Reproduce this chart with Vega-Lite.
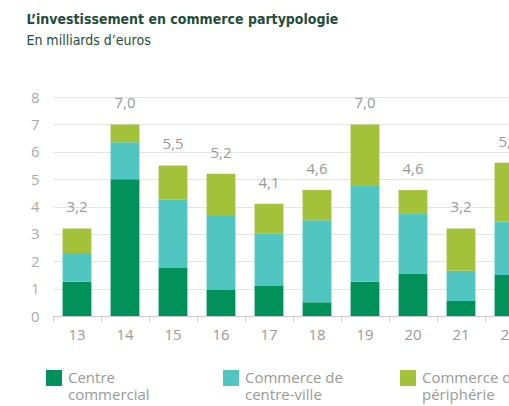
{
  "$schema": "https://vega.github.io/schema/vega-lite/v6.json",
  "width": 456,
  "height": 219,
  "autosize": {"type": "none"},
  "padding": {"left": 53, "top": 97, "right": 0, "bottom": 90},
  "title": {
    "text": "L’investissement en commerce partypologie",
    "subtitle": "En milliards d’euros",
    "anchor": "start",
    "dx": -4,
    "offset": 42,
    "font": "DejaVu Sans Condensed, DejaVu Sans, sans-serif",
    "fontWeight": "bold",
    "fontSize": 14,
    "color": "#1f4d3a",
    "subtitleFont": "DejaVu Sans Condensed, DejaVu Sans, sans-serif",
    "subtitleFontSize": 14,
    "subtitleColor": "#1f4d3a",
    "subtitlePadding": 7
  },
  "config": {
    "locale": {"number": {"decimal": ",", "thousands": " ", "grouping": [3], "currency": ["", " €"]}},
    "view": {"stroke": null},
    "font": "Open Sans"
  },
  "data": {
    "values": [
      {"year": "13", "type": "Centre commercial", "value": 1.25},
      {"year": "13", "type": "Commerce de centre-ville", "value": 1.05},
      {"year": "13", "type": "Commerce de périphérie", "value": 0.9},
      {"year": "14", "type": "Centre commercial", "value": 5.0},
      {"year": "14", "type": "Commerce de centre-ville", "value": 1.35},
      {"year": "14", "type": "Commerce de périphérie", "value": 0.65},
      {"year": "15", "type": "Centre commercial", "value": 1.75},
      {"year": "15", "type": "Commerce de centre-ville", "value": 2.5},
      {"year": "15", "type": "Commerce de périphérie", "value": 1.25},
      {"year": "16", "type": "Centre commercial", "value": 0.95},
      {"year": "16", "type": "Commerce de centre-ville", "value": 2.7},
      {"year": "16", "type": "Commerce de périphérie", "value": 1.55},
      {"year": "17", "type": "Centre commercial", "value": 1.1},
      {"year": "17", "type": "Commerce de centre-ville", "value": 1.9},
      {"year": "17", "type": "Commerce de périphérie", "value": 1.1},
      {"year": "18", "type": "Centre commercial", "value": 0.5},
      {"year": "18", "type": "Commerce de centre-ville", "value": 3.0},
      {"year": "18", "type": "Commerce de périphérie", "value": 1.1},
      {"year": "19", "type": "Centre commercial", "value": 1.25},
      {"year": "19", "type": "Commerce de centre-ville", "value": 3.5},
      {"year": "19", "type": "Commerce de périphérie", "value": 2.25},
      {"year": "20", "type": "Centre commercial", "value": 1.55},
      {"year": "20", "type": "Commerce de centre-ville", "value": 2.2},
      {"year": "20", "type": "Commerce de périphérie", "value": 0.85},
      {"year": "21", "type": "Centre commercial", "value": 0.55},
      {"year": "21", "type": "Commerce de centre-ville", "value": 1.1},
      {"year": "21", "type": "Commerce de périphérie", "value": 1.55},
      {"year": "22", "type": "Centre commercial", "value": 1.5},
      {"year": "22", "type": "Commerce de centre-ville", "value": 1.95},
      {"year": "22", "type": "Commerce de périphérie", "value": 2.15}
    ]
  },
  "encoding": {
    "x": {
      "field": "year",
      "type": "nominal",
      "scale": {"range": [0, 480], "paddingInner": 0.4, "paddingOuter": 0.2},
      "axis": {
        "title": null,
        "labelAngle": 0,
        "labelColor": "#999999",
        "labelFontSize": 15,
        "labelPadding": 6,
        "domainColor": "#cccccc",
        "tickColor": "#cccccc",
        "tickSize": 5,
        "bandPosition": -0.333
      }
    }
  },
  "layer": [
    {
      "mark": {"type": "bar", "clip": true},
      "encoding": {
        "y": {
          "field": "value",
          "type": "quantitative",
          "aggregate": "sum",
          "scale": {"domain": [0, 8]},
          "axis": {
            "title": null,
            "values": [0, 1, 2, 3, 4, 5, 6, 7, 8],
            "labelOverlap": false,
            "domain": false,
            "ticks": false,
            "labelColor": "#aaaaaa",
            "labelFontSize": 15,
            "labelPadding": 14,
            "gridColor": "#e4e4e4",
            "gridWidth": 1
          }
        },
        "color": {
          "field": "type",
          "type": "nominal",
          "scale": {
            "domain": ["Centre commercial", "Commerce de centre-ville", "Commerce de périphérie"],
            "range": ["#00925a", "#4fc6c0", "#a4c13a"]
          },
          "legend": {
            "title": null,
            "orient": "none",
            "legendX": -7,
            "legendY": 273,
            "direction": "horizontal",
            "padding": 0,
            "symbolType": "square",
            "symbolSize": 256,
            "symbolStrokeWidth": 0,
            "symbolOpacity": 1,
            "labelFontSize": 15,
            "labelColor": "#999999",
            "labelOffset": 6,
            "labelBaseline": "middle",
            "labelLimit": 200,
            "gridAlign": "all",
            "columnPadding": 57,
            "labelExpr": "datum.label == 'Centre commercial' ? ['Centre', 'commercial'] : datum.label == 'Commerce de centre-ville' ? ['Commerce de', 'centre-ville'] : ['Commerce de', 'périphérie']"
          }
        },
        "order": {"field": "type", "sort": "ascending"}
      }
    },
    {
      "transform": [
        {"aggregate": [{"op": "sum", "field": "value", "as": "total"}], "groupby": ["year"]}
      ],
      "mark": {"type": "text", "baseline": "middle", "dy": -21, "fontSize": 15, "color": "#999999"},
      "encoding": {
        "y": {
          "field": "total",
          "type": "quantitative",
          "axis": {
            "title": null,
            "values": [0, 1, 2, 3, 4, 5, 6, 7, 8],
            "labelOverlap": false,
            "domain": false,
            "ticks": false,
            "labelColor": "#aaaaaa",
            "labelFontSize": 15,
            "labelPadding": 14,
            "gridColor": "#e4e4e4",
            "gridWidth": 1
          }
        },
        "text": {"field": "total", "type": "quantitative", "format": ".1f"}
      }
    }
  ]
}
